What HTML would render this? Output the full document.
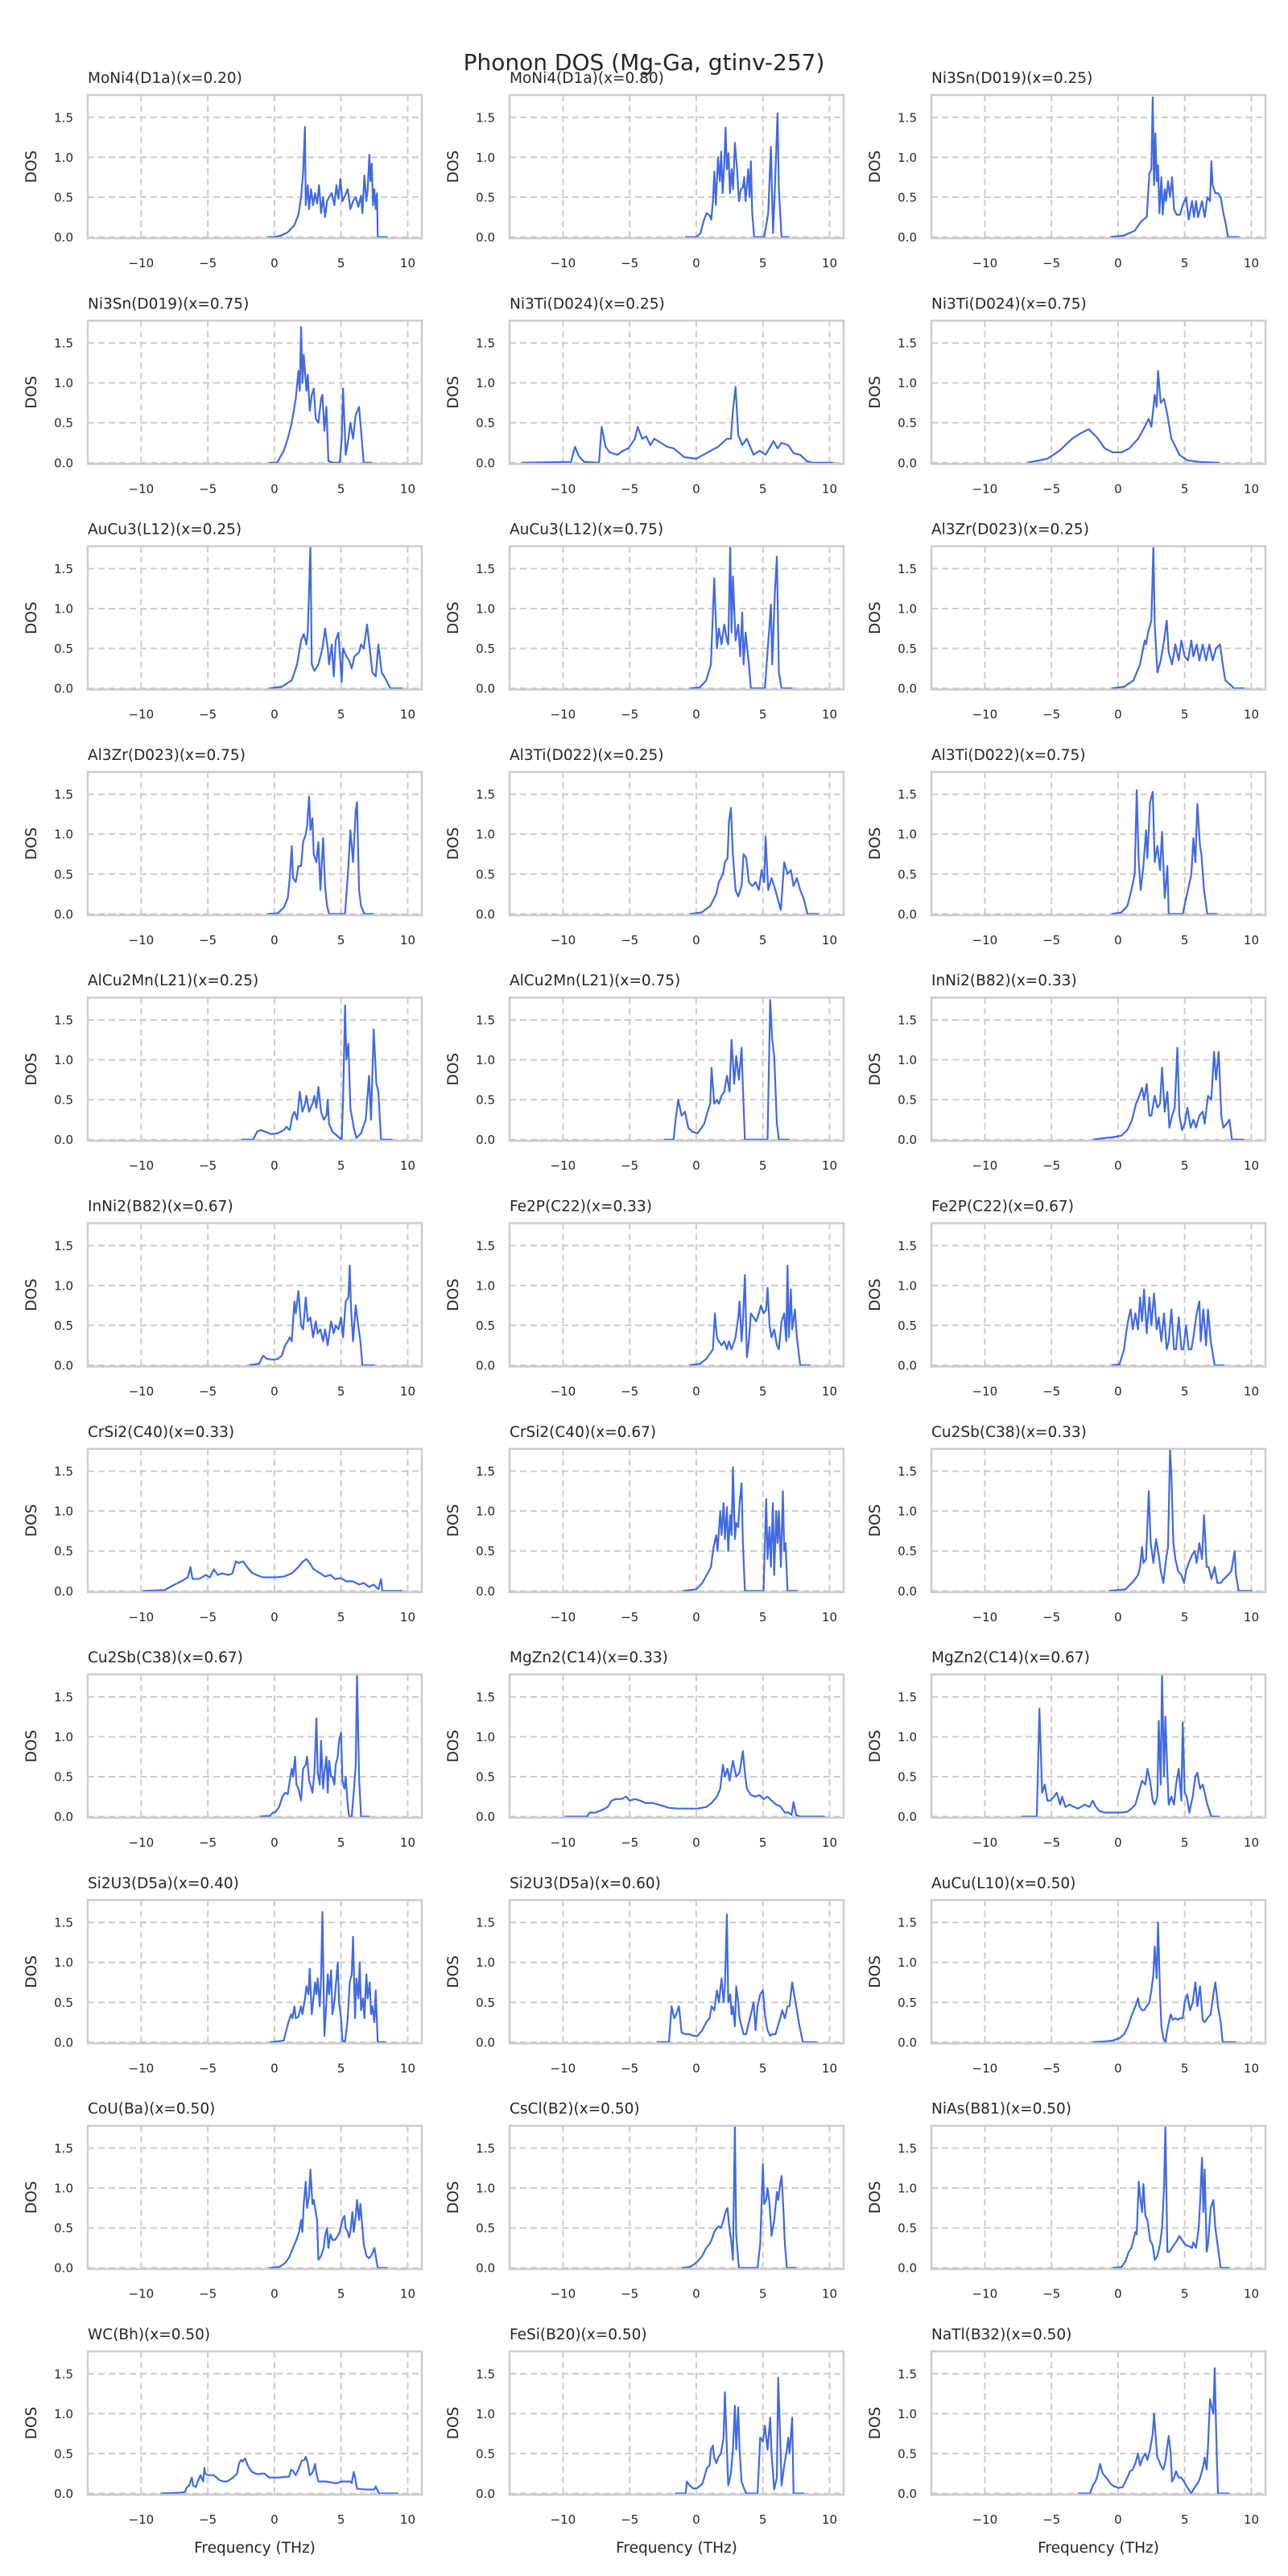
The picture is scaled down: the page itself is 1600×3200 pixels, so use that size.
<!DOCTYPE html>
<html>
<head>
<meta charset="utf-8">
<style>
  html, body { margin: 0; padding: 0; background: #ffffff; }
  svg { display: block; }
  text { font-family: "DejaVu Sans", "Liberation Sans", sans-serif; fill: #262626; }
</style>
</head>
<body>
<svg id="fig" xmlns="http://www.w3.org/2000/svg" width="1600" height="3200" viewBox="0 0 1600 3200">
  <rect x="0" y="0" width="1600" height="3200" fill="#ffffff"></rect>
  <text x="800" y="87" text-anchor="middle" font-size="28">Phonon DOS (Mg-Ga, gtinv-257)</text>
  <g id="panels"></g>
</svg>
<script>
const panelTitles = [
  "MoNi4(D1a)(x=0.20)","MoNi4(D1a)(x=0.80)","Ni3Sn(D019)(x=0.25)",
  "Ni3Sn(D019)(x=0.75)","Ni3Ti(D024)(x=0.25)","Ni3Ti(D024)(x=0.75)",
  "AuCu3(L12)(x=0.25)","AuCu3(L12)(x=0.75)","Al3Zr(D023)(x=0.25)",
  "Al3Zr(D023)(x=0.75)","Al3Ti(D022)(x=0.25)","Al3Ti(D022)(x=0.75)",
  "AlCu2Mn(L21)(x=0.25)","AlCu2Mn(L21)(x=0.75)","InNi2(B82)(x=0.33)",
  "InNi2(B82)(x=0.67)","Fe2P(C22)(x=0.33)","Fe2P(C22)(x=0.67)",
  "CrSi2(C40)(x=0.33)","CrSi2(C40)(x=0.67)","Cu2Sb(C38)(x=0.33)",
  "Cu2Sb(C38)(x=0.67)","MgZn2(C14)(x=0.33)","MgZn2(C14)(x=0.67)",
  "Si2U3(D5a)(x=0.40)","Si2U3(D5a)(x=0.60)","AuCu(L10)(x=0.50)",
  "CoU(Ba)(x=0.50)","CsCl(B2)(x=0.50)","NiAs(B81)(x=0.50)",
  "WC(Bh)(x=0.50)","FeSi(B20)(x=0.50)","NaTl(B32)(x=0.50)"
];
const xTicks = [-10, -5, 0, 5, 10];
const xTickLabels = ["\u221210", "\u22125", "0", "5", "10"];
const yTicks = [0, 0.5, 1.0, 1.5];
const yTickLabels = ["0.0", "0.5", "1.0", "1.5"];
const xDomain = [-14.01, 11.06];
const yDomain = [-0.015, 1.78];

const panelFreqs = [
[-0.5,0,0.5,1,1.5,1.8,2.0,2.15,2.29,2.35,2.5,2.6,2.75,2.9,3.05,3.2,3.35,3.5,3.65,3.8,3.95,4.1,4.3,4.5,4.65,4.8,4.95,5.1,5.3,5.5,5.7,5.9,6.1,6.3,6.5,6.6,6.75,6.9,7.0,7.12,7.2,7.3,7.4,7.5,7.6,7.7,7.75,8.5],
[-0.83,0,0.32,0.55,0.78,1.0,1.13,1.25,1.36,1.47,1.63,1.77,1.87,1.98,2.1,2.2,2.3,2.42,2.53,2.65,2.76,2.9,3.06,3.2,3.35,3.5,3.6,3.7,3.9,4.0,4.1,4.2,4.35,5.1,5.4,5.6,5.76,5.9,6.1,6.2,6.4,7.0],
[-0.56,0.44,1.25,1.75,2.15,2.35,2.5,2.6,2.7,2.8,2.9,3.0,3.1,3.25,3.35,3.5,3.6,3.75,3.9,4.05,4.2,4.4,4.65,4.85,5.1,5.3,5.55,5.7,5.85,6.0,6.3,6.5,6.7,6.9,7.0,7.1,7.3,7.5,7.7,7.9,8.1,8.25,9.1],
[-0.4,0.2,0.7,1.0,1.3,1.6,1.8,1.9,2.0,2.1,2.2,2.4,2.5,2.65,2.8,2.95,3.1,3.3,3.5,3.6,3.75,3.9,4.05,4.4,4.9,5.05,5.15,5.35,5.55,5.7,5.9,6.1,6.35,6.5,6.7,7.3],
[-13.1,-9.4,-9.1,-8.8,-8.4,-7.3,-7.1,-6.8,-6.5,-5.9,-5.5,-5.1,-4.6,-4.4,-4.05,-3.75,-3.45,-3.15,-2.65,-2.2,-1.7,-0.9,0,0.75,1.65,2.3,2.6,2.75,2.95,3.15,3.45,3.8,4.3,4.75,5.2,5.8,6.1,6.4,6.9,7.3,7.8,8.3,8.7,10.3],
[-6.8,-5.3,-4.4,-3.45,-2.8,-2.2,-1.6,-1.0,-0.4,0.25,0.85,1.5,2.0,2.3,2.5,2.75,2.9,3.0,3.2,3.45,3.7,4.0,4.25,4.6,5.2,6.1,7.6],
[-0.4,0.55,1.3,1.7,2.0,2.2,2.4,2.5,2.7,2.8,3.0,3.3,3.6,3.8,4.0,4.1,4.3,4.45,4.6,4.8,4.9,5.05,5.15,5.4,5.6,5.8,6.0,6.35,6.5,6.7,6.95,7.15,7.35,7.6,7.8,8.05,8.4,8.7,9.6],
[-0.5,0.25,0.75,1.1,1.35,1.55,1.7,1.9,2.1,2.3,2.4,2.55,2.65,2.75,2.95,3.15,3.3,3.45,3.55,3.7,3.95,4.1,5.15,5.5,5.6,5.7,5.9,6.05,6.2,6.4,7.2],
[-0.5,0.45,1.15,1.65,2.0,2.1,2.25,2.5,2.65,2.75,2.95,3.2,3.45,3.65,3.8,4.05,4.3,4.55,4.75,5.0,5.25,5.5,5.65,5.9,6.1,6.35,6.6,6.85,7.1,7.35,7.65,7.9,8.05,8.4,8.7,9.5],
[-0.55,0.25,0.7,1.0,1.15,1.3,1.4,1.6,1.8,2.0,2.15,2.35,2.45,2.6,2.7,2.85,2.95,3.15,3.3,3.45,3.65,3.8,3.95,4.1,5.3,5.55,5.7,5.9,6.1,6.2,6.35,6.5,6.75,7.45],
[-0.5,0.4,1.05,1.5,1.7,2.0,2.15,2.35,2.45,2.6,2.75,2.95,3.15,3.4,3.55,3.75,3.95,4.2,4.45,4.7,4.9,5.1,5.2,5.4,5.65,5.85,6.1,6.35,6.6,6.85,7.1,7.3,7.55,7.8,8.05,8.35,9.2],
[-0.5,0.25,0.7,1.0,1.25,1.4,1.55,1.7,1.9,2.1,2.2,2.4,2.6,2.75,2.95,3.15,3.3,3.5,3.7,3.8,4.85,5.5,5.65,5.8,5.95,6.15,6.25,6.45,6.7,7.45],
[-2.5,-1.6,-1.3,-1.05,-0.7,-0.25,0.25,0.7,0.9,1.15,1.35,1.5,1.7,1.9,2.1,2.3,2.4,2.6,2.85,3.0,3.15,3.3,3.5,3.7,3.9,4.0,4.1,4.35,4.7,4.9,5.05,5.15,5.3,5.4,5.55,5.7,5.95,6.15,6.5,6.85,7.1,7.25,7.45,7.65,7.8,8.0,8.85],
[-2.45,-1.7,-1.55,-1.35,-1.1,-0.85,-0.6,-0.3,0.1,0.4,0.6,0.85,1.05,1.15,1.35,1.55,1.7,1.9,2.1,2.3,2.5,2.65,2.85,3.0,3.2,3.4,3.5,3.65,5.35,5.55,5.7,5.85,6.05,6.2,7.0],
[-1.9,-1.0,-0.4,0.25,0.7,1.05,1.35,1.6,1.8,1.95,2.15,2.35,2.5,2.75,2.95,3.15,3.3,3.5,3.7,3.85,4.05,4.25,4.45,4.6,4.8,5.0,5.2,5.45,5.65,5.85,6.1,6.35,6.5,6.75,7.0,7.2,7.35,7.55,7.75,7.9,8.15,8.35,8.55,9.5],
[-1.9,-1.15,-0.85,-0.55,-0.1,0.25,0.55,0.8,1.0,1.15,1.3,1.5,1.6,1.8,2.0,2.15,2.35,2.5,2.7,2.9,3.1,3.25,3.45,3.65,3.8,4.0,4.25,4.45,4.6,4.8,5.0,5.15,5.35,5.55,5.65,5.75,5.9,6.1,6.25,6.45,6.6,7.55],
[-0.5,0.3,0.75,1.05,1.25,1.4,1.55,1.7,1.9,2.1,2.3,2.45,2.65,2.95,3.15,3.25,3.4,3.5,3.65,3.8,3.95,4.1,4.3,4.5,4.7,4.85,5.05,5.25,5.35,5.5,5.65,5.85,6.05,6.2,6.4,6.6,6.75,6.85,6.95,7.1,7.2,7.4,7.55,7.8,8.6],
[-0.5,0.1,0.45,0.6,0.8,0.95,1.1,1.3,1.5,1.65,1.8,1.95,2.15,2.35,2.5,2.7,2.9,3.05,3.25,3.45,3.65,3.8,4.0,4.2,4.35,4.55,4.75,4.9,5.1,5.3,5.5,5.65,5.9,6.1,6.2,6.4,6.6,6.75,6.95,7.05,7.25,7.95],
[-9.9,-8.25,-7.6,-7.0,-6.5,-6.3,-6.15,-5.65,-5.15,-4.85,-4.55,-4.25,-3.95,-3.45,-3.15,-2.9,-2.65,-2.35,-2.05,-1.7,-1.35,-0.85,0.05,0.7,1.3,1.8,2.15,2.4,2.65,2.9,3.15,3.45,3.8,4.2,4.55,5.0,5.4,5.9,6.35,6.7,7.1,7.45,7.8,8.0,8.1,9.6],
[-1.0,0,0.45,0.85,1.1,1.3,1.5,1.6,1.8,1.9,2.05,2.15,2.3,2.4,2.55,2.65,2.75,2.9,3.0,3.15,3.25,3.4,3.5,3.65,5.05,5.25,5.35,5.5,5.6,5.75,5.85,6.0,6.1,6.2,6.35,6.5,6.6,6.7,6.85,7.65],
[-0.7,0.55,1.15,1.5,1.65,1.8,1.9,2.1,2.3,2.45,2.65,2.85,3.05,3.2,3.4,3.6,3.75,3.9,4.0,4.15,4.3,4.5,4.75,4.95,5.1,5.3,5.55,5.75,5.9,6.1,6.3,6.45,6.65,6.8,7.0,7.25,7.45,7.7,7.95,8.25,8.5,8.75,8.85,9.05,10.1],
[-1.1,-0.35,-0.1,0.1,0.35,0.6,0.8,1.0,1.15,1.3,1.4,1.55,1.65,1.8,2.0,2.15,2.35,2.45,2.6,2.7,2.85,3.0,3.15,3.25,3.4,3.5,3.65,3.75,3.9,4.0,4.1,4.25,4.35,4.5,4.6,4.75,4.85,5.0,5.1,5.25,5.35,5.5,5.6,5.8,5.95,6.1,6.2,6.35,6.5,7.15],
[-9.85,-8.2,-8.0,-7.55,-7.1,-6.65,-6.35,-6.05,-5.6,-5.25,-5.0,-4.6,-4.2,-3.8,-3.25,-2.65,-2.05,-1.4,-0.6,0.1,0.75,1.15,1.55,1.8,2.0,2.15,2.35,2.5,2.75,3.0,3.25,3.5,3.65,3.8,4.1,4.45,4.75,5.05,5.35,5.65,6.0,6.3,6.65,6.95,7.15,7.3,7.5,7.8,9.65],
[-7.25,-6.1,-5.9,-5.7,-5.5,-5.3,-5.1,-4.8,-4.6,-4.35,-4.2,-3.95,-3.65,-3.3,-3.0,-2.5,-2.15,-1.9,-1.7,-1.4,-1.0,-0.4,0.25,0.7,1.0,1.3,1.55,1.8,2.05,2.2,2.4,2.6,2.75,2.95,3.05,3.2,3.3,3.45,3.55,3.7,3.8,4.0,4.2,4.35,4.55,4.75,4.85,5.0,5.15,5.35,5.6,5.8,5.95,6.15,6.35,6.5,6.7,7.0,7.6],
[-0.35,0.7,0.85,1.05,1.25,1.35,1.5,1.6,1.8,2.0,2.1,2.3,2.4,2.55,2.65,2.8,2.9,3.05,3.15,3.25,3.4,3.5,3.6,3.75,3.9,4.0,4.1,4.25,4.35,4.5,4.6,4.75,4.85,5.0,5.1,5.3,5.5,5.65,5.8,5.9,6.05,6.15,6.3,6.4,6.5,6.65,6.75,6.9,7.0,7.15,7.25,7.35,7.5,7.6,7.75,8.35],
[-2.95,-2.05,-1.85,-1.65,-1.5,-1.3,-1.1,-0.8,-0.5,-0.2,0.1,0.45,0.75,1.0,1.15,1.35,1.55,1.7,1.9,2.05,2.15,2.3,2.4,2.55,2.65,2.75,2.9,3.0,3.15,3.25,3.4,3.55,3.75,3.95,4.1,4.3,4.45,4.6,4.8,5.0,5.15,5.35,5.55,5.7,5.95,6.3,6.45,6.65,6.85,7.0,7.2,7.4,7.55,7.75,8.0,9.05],
[-1.9,-1.0,-0.4,0.1,0.45,0.75,1.05,1.3,1.5,1.6,1.8,1.95,2.15,2.35,2.5,2.65,2.75,2.9,3.0,3.15,3.25,3.4,3.55,3.75,3.95,4.1,4.3,4.5,4.65,4.85,5.0,5.2,5.4,5.6,5.8,5.95,6.15,6.35,6.5,6.7,6.95,7.15,7.3,7.5,7.7,7.85,8.85],
[-0.4,0.35,0.8,1.1,1.4,1.65,1.85,2.0,2.1,2.2,2.35,2.45,2.6,2.7,2.85,2.95,3.1,3.2,3.3,3.5,3.7,3.8,3.95,4.05,4.2,4.35,4.55,4.75,4.9,5.1,5.25,5.35,5.5,5.6,5.7,5.85,5.95,6.1,6.2,6.35,6.45,6.6,6.7,6.9,7.1,7.25,7.4,7.5,7.6,7.75,8.5],
[-1.1,-0.5,-0.2,0.1,0.45,0.75,1.0,1.15,1.35,1.55,1.7,1.85,2.05,2.2,2.35,2.45,2.65,2.75,2.9,3.0,3.2,4.6,4.8,5.0,5.1,5.25,5.35,5.5,5.65,5.85,6.05,6.15,6.3,6.4,6.55,6.65,6.8,7.5],
[-0.4,0.25,0.55,0.8,1.0,1.15,1.3,1.4,1.55,1.65,1.8,1.9,2.05,2.2,2.4,2.6,2.75,2.95,3.15,3.3,3.45,3.55,3.7,3.85,4.05,4.25,4.45,4.6,4.8,5.0,5.15,5.35,5.55,5.65,5.85,6.05,6.15,6.3,6.4,6.5,6.65,6.75,6.95,7.15,7.3,7.5,7.7,8.35],
[-8.55,-7.05,-6.7,-6.6,-6.4,-6.2,-6.1,-5.9,-5.7,-5.55,-5.35,-5.25,-5.2,-5.0,-4.55,-4.15,-3.85,-3.55,-3.1,-2.8,-2.65,-2.5,-2.4,-2.2,-2.0,-1.75,-1.45,-1.15,-0.95,-0.75,-0.4,0,0.4,0.85,1.1,1.25,1.4,1.6,1.85,2.05,2.25,2.35,2.5,2.65,2.8,2.9,3.05,3.15,3.3,3.85,4.25,4.45,4.75,5.0,5.7,5.8,5.95,6.05,6.2,6.85,7.5,7.6,7.7,7.85,9.3],
[-1.6,-0.8,-0.7,-0.5,-0.2,0.1,0.45,0.6,0.8,1.0,1.1,1.25,1.35,1.5,1.65,1.85,2.05,2.15,2.3,2.4,2.6,2.75,2.9,3.0,3.15,3.25,3.4,3.55,3.75,4.6,4.8,5.0,5.15,5.35,5.55,5.65,5.85,6.05,6.15,6.3,6.4,6.6,6.8,6.9,7.0,7.2,7.3,8.1],
[-3.0,-2.1,-1.9,-1.7,-1.55,-1.35,-1.15,-1.0,-0.8,-0.55,-0.3,0.05,0.35,0.55,0.75,0.9,1.1,1.3,1.5,1.65,1.85,2.05,2.2,2.4,2.6,2.7,2.85,2.95,3.1,3.2,3.4,3.55,3.7,3.8,3.95,4.05,4.2,4.35,4.55,4.75,4.95,5.1,5.3,5.5,5.65,5.85,6.05,6.2,6.4,6.5,6.65,6.75,6.9,7.0,7.15,7.25,7.4,7.5,8.35]
];

const panelDos = [
[0,0,0.02,0.06,0.15,0.28,0.5,0.8,1.38,0.4,0.65,0.35,0.6,0.4,0.55,0.42,0.65,0.3,0.5,0.25,0.45,0.5,0.55,0.4,0.65,0.48,0.73,0.45,0.52,0.6,0.35,0.45,0.5,0.38,0.52,0.3,0.77,0.45,0.6,1.03,0.7,0.92,0.4,0.6,0.35,0.55,0,0],
[0,0,0.05,0.2,0.3,0.27,0.22,0.45,0.82,0.4,1.0,0.7,1.07,0.55,0.9,1.37,0.85,1.05,0.55,0.85,0.6,1.18,0.85,0.45,0.6,0.62,0.75,0.45,0.85,0.5,0.95,0.3,0,0,0.3,1.13,0.05,0.6,1.55,0.6,0,0],
[0,0.02,0.08,0.2,0.25,0.8,0.85,1.75,0.65,1.3,0.7,0.9,0.3,0.75,0.28,0.6,0.45,0.7,0.5,0.75,0.35,0.28,0.28,0.4,0.5,0.22,0.45,0.25,0.45,0.25,0.45,0.25,0.5,0.45,0.95,0.65,0.55,0.55,0.5,0.3,0.15,0,0],
[0,0,0.15,0.3,0.5,0.8,1.15,0.9,1.7,1.0,1.35,0.9,1.1,0.65,0.85,0.93,0.55,0.5,0.8,0.85,0.4,0.7,0.02,0,0,0.3,0.93,0.1,0.3,0.5,0.3,0.6,0.7,0.4,0,0],
[0,0.01,0.2,0.08,0.01,0,0.45,0.2,0.13,0.1,0.15,0.18,0.3,0.45,0.3,0.33,0.22,0.3,0.25,0.2,0.18,0.07,0.05,0.12,0.2,0.3,0.3,0.65,0.95,0.35,0.22,0.3,0.1,0.15,0.1,0.27,0.18,0.25,0.22,0.12,0.1,0.02,0,0],
[0,0.05,0.15,0.3,0.37,0.42,0.32,0.18,0.13,0.13,0.18,0.3,0.45,0.55,0.45,0.85,0.7,1.15,0.75,0.8,0.6,0.3,0.22,0.1,0.03,0.01,0],
[0,0.02,0.1,0.3,0.6,0.68,0.55,0.7,1.78,0.3,0.22,0.3,0.5,0.75,0.5,0.3,0.55,0.15,0.6,0.7,0.45,0.08,0.5,0.4,0.35,0.25,0.4,0.45,0.55,0.5,0.8,0.5,0.2,0.15,0.55,0.2,0.1,0,0],
[0,0.01,0.1,0.3,1.38,0.5,0.75,0.55,0.8,0.6,0.55,1.78,0.7,1.4,0.6,0.8,0.4,0.95,0.3,0.7,0.3,0,0,0.8,1.05,0.3,1.2,1.65,0.2,0,0],
[0,0.02,0.1,0.3,0.6,0.55,0.7,0.85,1.78,0.8,0.2,0.35,0.6,0.85,0.45,0.3,0.55,0.35,0.6,0.4,0.35,0.6,0.4,0.55,0.35,0.55,0.35,0.55,0.35,0.5,0.55,0.25,0.1,0.05,0,0],
[0,0.01,0.08,0.2,0.45,0.85,0.45,0.4,0.6,0.6,0.9,1.0,1.1,1.47,1.05,1.2,0.75,0.65,0.9,0.3,0.95,0.35,0.1,0,0,0.6,1.05,0.65,1.3,1.4,0.3,0.1,0,0],
[0,0.02,0.1,0.25,0.4,0.5,0.65,0.7,1.15,1.33,0.75,0.3,0.22,0.35,0.75,0.7,0.4,0.35,0.4,0.3,0.55,0.4,0.97,0.3,0.45,0.35,0.2,0.05,0.65,0.5,0.55,0.35,0.45,0.3,0.2,0,0],
[0,0.02,0.1,0.3,0.5,1.55,0.65,0.3,0.6,1.05,0.7,1.4,1.53,0.65,0.85,0.55,1.03,0.2,0.6,0,0,0.5,0.95,0.65,1.38,0.85,0.75,0.3,0,0],
[0,0,0.1,0.12,0.1,0.07,0.08,0.12,0.16,0.12,0.3,0.35,0.25,0.6,0.35,0.45,0.55,0.35,0.45,0.55,0.4,0.66,0.35,0.25,0.3,0.5,0.2,0.1,0.05,0.02,0,0.5,1.68,1.0,1.2,0.4,0.15,0.02,0.08,0.25,0.8,0.25,1.38,0.7,0.6,0,0],
[0,0,0.25,0.5,0.3,0.35,0.15,0.1,0.08,0.15,0.2,0.35,0.45,0.9,0.45,0.5,0.45,0.55,0.6,0.8,0.6,1.25,0.7,1.05,0.75,1.15,0.65,0,0,1.75,1.25,1.05,0.2,0,0],
[0,0.02,0.03,0.05,0.12,0.25,0.45,0.55,0.65,0.5,0.7,0.3,0.3,0.55,0.4,0.45,0.9,0.35,0.6,0.15,0.3,0.4,1.15,0.3,0.12,0.2,0.4,0.15,0.25,0.15,0.3,0.35,0.2,0.55,0.5,1.1,0.75,1.1,0.3,0.15,0.2,0.25,0,0],
[0,0.02,0.12,0.08,0.07,0.08,0.12,0.25,0.3,0.35,0.3,0.8,0.65,0.93,0.5,0.45,0.85,0.55,0.6,0.35,0.55,0.4,0.45,0.3,0.45,0.25,0.55,0.4,0.5,0.45,0.6,0.35,0.8,0.85,1.25,0.7,0.3,0.75,0.55,0.3,0,0],
[0,0.02,0.08,0.15,0.2,0.65,0.35,0.3,0.25,0.3,0.2,0.3,0.2,0.35,0.6,0.8,0.3,0.55,1.13,0.1,0.3,0.65,0.6,0.55,0.65,0.75,0.65,0.7,0.97,0.5,0.35,0.45,0.25,0.2,0.55,0.65,0.3,1.25,0.35,0.95,0.45,0.7,0.35,0,0],
[0,0.01,0.2,0.4,0.6,0.7,0.45,0.65,0.45,0.85,0.55,0.95,0.4,0.85,0.5,0.9,0.45,0.6,0.3,0.65,0.2,0.3,0.7,0.2,0.2,0.6,0.2,0.2,0.5,0.2,0.2,0.35,0.65,0.8,0.3,0.7,0.25,0.7,0.3,0.2,0,0],
[0,0.01,0.07,0.12,0.17,0.3,0.15,0.15,0.2,0.17,0.27,0.2,0.22,0.2,0.22,0.37,0.35,0.37,0.3,0.23,0.2,0.17,0.17,0.18,0.22,0.3,0.37,0.4,0.35,0.28,0.25,0.22,0.18,0.2,0.15,0.16,0.12,0.12,0.08,0.1,0.05,0.08,0.02,0.15,0,0],
[0,0.02,0.1,0.22,0.3,0.55,0.7,0.5,1.0,0.7,1.1,0.65,1.05,0.5,0.95,0.7,1.55,0.65,0.85,0.8,1.1,1.35,0.6,0,0,1.15,0.4,0.8,0.3,1.1,0.2,1.0,0.6,1.0,0.3,1.25,0.5,0.6,0,0],
[0,0.02,0.12,0.2,0.3,0.55,0.35,0.4,1.25,0.6,0.35,0.65,0.45,0.25,0.1,0.4,0.55,1.78,1.45,0.6,0.4,0.25,0.2,0.1,0.25,0.35,0.45,0.5,0.35,0.6,0.4,0.95,0.3,0.3,0.15,0.3,0.1,0.1,0.15,0.2,0.25,0.5,0.2,0,0],
[0,0.01,0.05,0.06,0.12,0.25,0.3,0.28,0.45,0.6,0.5,0.75,0.4,0.35,0.2,0.6,0.65,0.75,0.45,0.4,0.3,0.55,1.23,0.55,0.4,0.95,0.35,0.55,0.75,0.3,0.7,0.5,0.5,0.4,0.65,0.75,0.95,1.05,0.45,0.35,0.5,0.15,0,0,0.3,0.65,1.78,0.5,0,0],
[0,0,0.05,0.05,0.08,0.12,0.2,0.22,0.22,0.25,0.2,0.22,0.2,0.17,0.17,0.14,0.11,0.1,0.1,0.1,0.12,0.17,0.25,0.35,0.65,0.5,0.6,0.45,0.7,0.5,0.55,0.82,0.55,0.35,0.27,0.25,0.27,0.22,0.25,0.2,0.15,0.13,0.05,0.05,0.02,0.18,0.02,0,0],
[0,0,1.35,0.3,0.4,0.2,0.2,0.25,0.3,0.15,0.25,0.12,0.15,0.12,0.1,0.15,0.12,0.2,0.13,0.07,0.05,0.05,0.05,0.06,0.1,0.15,0.3,0.45,0.4,0.6,0.45,0.2,0.15,0.25,1.2,0.4,1.78,0.5,1.25,0.55,0.15,0.25,0.15,0.4,0.6,0.2,1.18,0.3,0.25,0.05,0.25,0.5,0.55,0.35,0.4,0.3,0.15,0,0],
[0,0.02,0.12,0.25,0.35,0.3,0.45,0.3,0.32,0.45,0.35,0.55,0.7,0.6,0.92,0.35,0.5,0.75,0.6,0.8,0.45,0.8,1.63,0.08,0.5,0.85,0.6,0.9,0.35,0.5,0.7,1.0,0.5,0.3,0.02,0,0.3,0.75,0.85,1.32,0.3,0.8,0.55,1.0,0.4,0.55,0.3,0.85,0.55,0.75,0.35,0.45,0.25,0.65,0,0],
[0,0,0.45,0.3,0.35,0.45,0.12,0.1,0.1,0.08,0.08,0.15,0.25,0.3,0.45,0.4,0.65,0.5,0.8,0.5,0.7,1.6,0.5,0.6,0.35,0.45,0.2,0.7,0.5,0.3,0.2,0.1,0.1,0.25,0.35,0.5,0.15,0.45,0.6,0.65,0.35,0.15,0.08,0.1,0.1,0.3,0.4,0.3,0.45,0.45,0.75,0.55,0.4,0.2,0,0],
[0,0.01,0.02,0.05,0.1,0.2,0.35,0.45,0.55,0.45,0.4,0.4,0.45,0.5,0.65,0.85,1.2,0.8,1.5,0.6,0.2,0.05,0,0.2,0.35,0.28,0.3,0.28,0.3,0.3,0.5,0.6,0.4,0.5,0.75,0.45,0.7,0.28,0.25,0.3,0.35,0.6,0.75,0.45,0.25,0,0],
[0,0.01,0.06,0.13,0.25,0.35,0.45,0.6,0.45,0.8,1.08,0.75,0.9,1.23,0.8,0.85,0.7,0.6,0.1,0.15,0.25,0.4,0.5,0.25,0.42,0.35,0.35,0.4,0.45,0.6,0.65,0.5,0.45,0.38,0.45,0.7,0.45,0.65,0.85,0.6,0.8,0.5,0.3,0.15,0.12,0.15,0.2,0.25,0.15,0,0],
[0,0.01,0.04,0.08,0.15,0.25,0.3,0.35,0.45,0.5,0.52,0.5,0.6,0.7,0.75,0.55,0.3,0.1,1.78,0.4,0,0,0.3,1.3,0.8,0.85,1.0,0.8,0.4,0.6,0.95,0.85,1.05,1.15,0.7,0.3,0,0],
[0,0.01,0.08,0.2,0.25,0.35,0.45,0.42,1.08,0.9,0.7,1.05,0.65,0.6,0.35,0.28,0.1,0.15,0.3,0.5,1.0,1.78,0.2,0.2,0.25,0.3,0.35,0.4,0.35,0.3,0.28,0.27,0.25,0.32,0.25,0.5,0.8,1.38,0.7,1.23,0.2,0.3,0.75,0.85,0.5,0.25,0,0],
[0,0.01,0.02,0.07,0.1,0.2,0.1,0.08,0.17,0.23,0.15,0.32,0.25,0.23,0.23,0.17,0.15,0.15,0.2,0.25,0.38,0.42,0.4,0.44,0.35,0.28,0.25,0.24,0.25,0.25,0.2,0.2,0.2,0.21,0.21,0.3,0.28,0.23,0.32,0.41,0.42,0.46,0.38,0.23,0.25,0.28,0.37,0.25,0.15,0.15,0.14,0.13,0.13,0.15,0.15,0.13,0.27,0.2,0.06,0.05,0.05,0.09,0.05,0,0],
[0,0,0.15,0.1,0.06,0.07,0.12,0.2,0.32,0.35,0.55,0.6,0.45,0.38,0.45,0.5,0.7,1.27,0.55,0.1,0.25,0.55,1.1,0.55,1.08,0.55,0.15,0.08,0,0,0.7,0.65,0.85,0.55,0.95,0.5,0.05,0.2,1.45,0.7,0.1,0.35,0.55,0.7,0.5,0.95,0,0],
[0,0,0.1,0.15,0.22,0.37,0.25,0.22,0.18,0.12,0.09,0.07,0.08,0.15,0.22,0.28,0.3,0.38,0.5,0.35,0.45,0.5,0.42,0.55,0.75,1.0,0.65,0.45,0.4,0.35,0.3,0.4,0.6,0.72,0.5,0.15,0.2,0.28,0.2,0.2,0.15,0.1,0.05,0,0.05,0.1,0.15,0.22,0.35,0.45,0.3,0.6,1.18,1.1,1.0,1.57,0.5,0,0]
];

const colLefts = [109, 633, 1157];
const panelW = 415, panelH = 178, firstTop = 118, rowStep = 280.3;
const NS = "http://www.w3.org/2000/svg";
const root = document.getElementById("panels");

function mk(tag, attrs, parent) {
  const el = document.createElementNS(NS, tag);
  for (const k in attrs) el.setAttribute(k, attrs[k]);
  parent.appendChild(el);
  return el;
}

const nRows = Math.ceil(panelTitles.length / 3);

panelTitles.forEach(function(title, i) {
  const row = Math.floor(i / 3), col = i % 3;
  const L = colLefts[col], T = firstTop + row * rowStep;
  const xs = function(v) { return L + (v - xDomain[0]) / (xDomain[1] - xDomain[0]) * panelW; };
  const ys = function(v) { return T + panelH - (v - yDomain[0]) / (yDomain[1] - yDomain[0]) * panelH; };

  const g = mk("g", {}, root);
  
  

  const bg = mk("rect", {x: L, y: T, width: panelW, height: panelH, fill: "#ffffff"}, g);
  
  

  // grid lines
  xTicks.forEach(function(t, k) {
    const gl = mk("line", {x1: xs(t), x2: xs(t), y1: T, y2: T + panelH, stroke: "#cccccc", "stroke-width": 2, "stroke-dasharray": "8,5"}, g);
    
    
    const tl = mk("text", {x: xs(t), y: T + panelH + 36, "text-anchor": "middle", "font-size": 15}, g);
    tl.textContent = xTickLabels[k];
    
    
  });
  yTicks.forEach(function(t, k) {
    const gl = mk("line", {x1: L, x2: L + panelW, y1: ys(t), y2: ys(t), stroke: "#cccccc", "stroke-width": 2, "stroke-dasharray": "8,5"}, g);
    
    
    const tl = mk("text", {x: L - 18, y: ys(t) + 5.5, "text-anchor": "end", "font-size": 15}, g);
    tl.textContent = yTickLabels[k];
    
    
  });

  // clip + line
  const cp = mk("clipPath", {id: "clip" + i}, g);
  mk("rect", {x: L, y: T, width: panelW, height: panelH}, cp);
  const fr = panelFreqs[i], ds = panelDos[i];
  let d = "";
  for (let k = 0; k < fr.length; k++) {
    d += (k === 0 ? "M" : "L") + xs(fr[k]).toFixed(2) + "," + ys(ds[k]).toFixed(2);
  }
  const line = mk("path", {d: d, fill: "none", stroke: "#4169e1", "stroke-width": 2.2, "stroke-linejoin": "round", "clip-path": "url(#clip" + i + ")"}, g);
  
  

  const frame = mk("rect", {x: L, y: T, width: panelW, height: panelH, fill: "none", stroke: "#cccccc", "stroke-width": 2.5}, g);
  
  

  const tt = mk("text", {x: L, y: T - 15, "font-size": 18.5}, g);
  tt.textContent = title;
  
  

  const yl = mk("text", {x: 0, y: 0, "text-anchor": "middle", "font-size": 18.5, transform: "translate(" + (L - 64) + "," + (T + panelH / 2) + ") rotate(-90)"}, g);
  yl.textContent = "DOS";
  
  

  if (row === nRows - 1) {
    const xl = mk("text", {x: L + panelW / 2, y: T + panelH + 72, "text-anchor": "middle", "font-size": 18.5}, g);
    xl.textContent = "Frequency (THz)";
    
    
  }
});
</script>
</body>
</html>
